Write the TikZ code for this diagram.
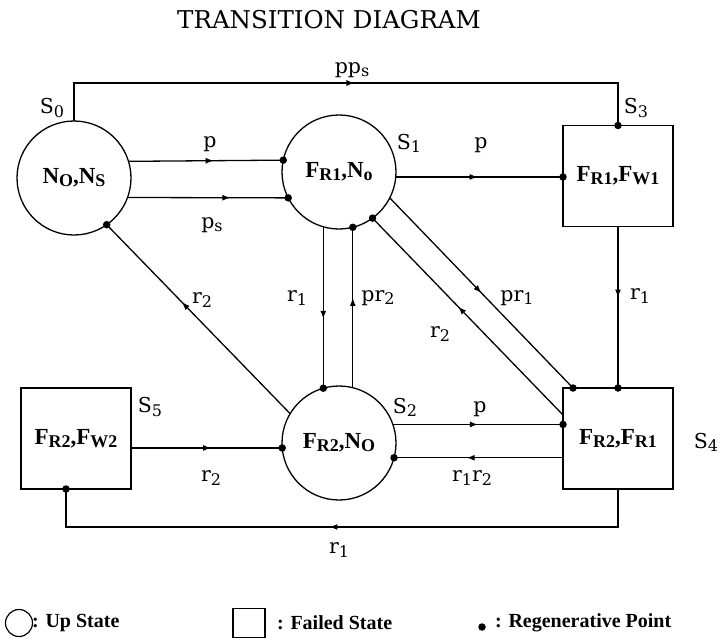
\documentclass[tikz,border=0pt]{standalone}
\usepackage{fontspec}
\setmainfont{Liberation Serif}
\newfontfamily\lblfont{DejaVu Serif}
\usetikzlibrary{arrows.meta,decorations.markings,calc}
\newcommand\ssub[1]{\raisebox{-0.3ex}{\scalebox{0.78}{#1}}}
\begin{document}
\begin{tikzpicture}[x=1pt,y=-1pt,
  upstate/.style={circle, draw, line width=1.3pt, minimum size=114pt, inner sep=0pt, outer sep=0pt, font=\bfseries\fontsize{23}{26}\selectfont},
  failstate/.style={rectangle, draw, line width=1.3pt, minimum width=110pt, minimum height=101pt, inner sep=0pt, outer sep=0pt, font=\bfseries\fontsize{23}{26}\selectfont},
  conn/.style={line width=1.3pt},
  midarrow/.style={postaction={decorate}, decoration={markings, mark=at position #1 with {\arrow{Latex[length=8pt,width=6pt]}}}},
  regdot/.style={circle, fill, inner sep=0pt, minimum size=7.5pt},
  lbl/.style={font=\lblfont\fontsize{20.5}{24}\selectfont, inner sep=0pt},
  legtxt/.style={font=\bfseries\fontsize{20}{24}\selectfont, inner sep=0pt, anchor=west},
  ttl/.style={font=\lblfont\fontsize{24.5}{28}\selectfont, inner sep=0pt}
]
\useasboundingbox (0,0) rectangle (720,640);
\node[ttl] (title) at (329,20) {TRANSITION DIAGRAM};

% states
\node[upstate] (S0) at (74,178) {N\ssub{O},N\ssub{S}};
\node[upstate] (S1) at (339,172) {F\ssub{R1},N\ssub{o}};
\node[upstate] (S2) at (339,443) {F\ssub{R2},N\ssub{O}};
\node[failstate] (S3) at (618,176) {F\ssub{R1},F\ssub{W1}};
\node[failstate] (S4) at (618,438.5) {F\ssub{R2},F\ssub{R1}};
\node[failstate] (S5) at (76,438.5) {F\ssub{R2},F\ssub{W2}};

% state labels
\node[lbl] (lS0) at (52,108) {S\ssub{0}};
\node[lbl] (lS1) at (409,143) {S\ssub{1}};
\node[lbl] (lS2) at (405,407) {S\ssub{2}};
\node[lbl] (lS3) at (636,108) {S\ssub{3}};
\node[lbl] (lS4) at (706,442) {S\ssub{4}};
\node[lbl] (lS5) at (150,407) {S\ssub{5}};

\coordinate (topy) at (0,83);
\coordinate (boty) at (0,527);
\coordinate (S4a) at ($(S4.north west)+(10,0)$);
\coordinate (S4b) at ($(S4.north west)+(0,27)$);
\coordinate (S5a) at ($(S5.south)+(-10,0)$);

% connectors
\draw[conn, midarrow=0.51] (S0.north) -- (S0.north |- topy) -| (S3.north) node[regdot] (d1) {};
\draw[conn, midarrow=0.55] (S0.17.35) -- (S1.168.87) node[regdot] (d2) {};
\draw[conn, midarrow=0.64] (S0.-20.54) -- (S1.207.14) node[regdot] (d3) {};
\draw[conn, midarrow=0.49] (S1.-5.03) -- (S1.-5.03 -| S3.west) node[regdot] (d4) {};
\draw[conn, midarrow=0.44] (S3.south) -- (S4.north) node[regdot] (d5) {};
\draw[conn, midarrow=0.57] (S1.-106.3) -- (S2.106.3) node[regdot] (d6) {};
\draw[conn, midarrow=0.56] (S2.76.8) -- (S1.-76.8) node[regdot] (d7) {};
\draw[conn, midarrow=0.5] (S1.-27.9) -- (S4a) node[regdot] (d8) {};
\draw[conn, midarrow=0.55] (S4b) -- (S1.-54.6) node[regdot] (d9) {};
\draw[conn, midarrow=0.5] (S2.19.47) -- (S2.19.47 -| S4.west) node[regdot] (d10) {};
\draw[conn, midarrow=0.57] (S2.-15.26 -| S4.west) -- (S2.-15.26) node[regdot] (d11) {};
\draw[conn, midarrow=0.53] (S5.east |- S2.185.03) -- (S2.185.03) node[regdot] (d12) {};
\draw[conn, midarrow=0.59] (S2.149.5) -- (S0.-55.2) node[regdot] (d13) {};
\draw[conn, midarrow=0.52] (S4.south) -- (S4.south |- boty) -| (S5a) node[regdot] (d14) {};

% connector labels
\node[lbl] (l1) at (352,70) {pp\ssub{s}};
\node[lbl] (l2) at (210,144) {p};
\node[lbl] (l3) at (212,225) {p\ssub{s}};
\node[lbl] (l4) at (481,145) {p};
\node[lbl] (l5) at (202,300) {r\ssub{2}};
\node[lbl] (l6) at (297,298) {r\ssub{1}};
\node[lbl] (l7) at (378,298) {pr\ssub{2}};
\node[lbl] (l8) at (517,298) {pr\ssub{1}};
\node[lbl] (l9) at (440,334) {r\ssub{2}};
\node[lbl] (l10) at (640,296) {r\ssub{1}};
\node[lbl] (l11) at (480,409) {p};
\node[lbl] (l12) at (211,478) {r\ssub{2}};
\node[lbl] (l13) at (472,478) {r\ssub{1}r\ssub{2}};
\node[lbl] (l14) at (339,550) {r\ssub{1}};

% legend
\node[circle, draw, line width=1.2pt, minimum width=27pt, inner sep=0pt] (legUp) at (19,623) {};
\node[legtxt] (legUpT) at (32,623) {: Up State};
\node[rectangle, draw, line width=1.2pt, minimum width=32pt, minimum height=29pt, inner sep=0pt] (legFail) at (249,623) {};
\node[legtxt] (legFailT) at (277,623) {: Failed State};
\node[regdot] (legDot) at (482,627) {};
\node[legtxt] (legDotT) at (495,623) {: Regenerative Point};
\end{tikzpicture}
\end{document}
